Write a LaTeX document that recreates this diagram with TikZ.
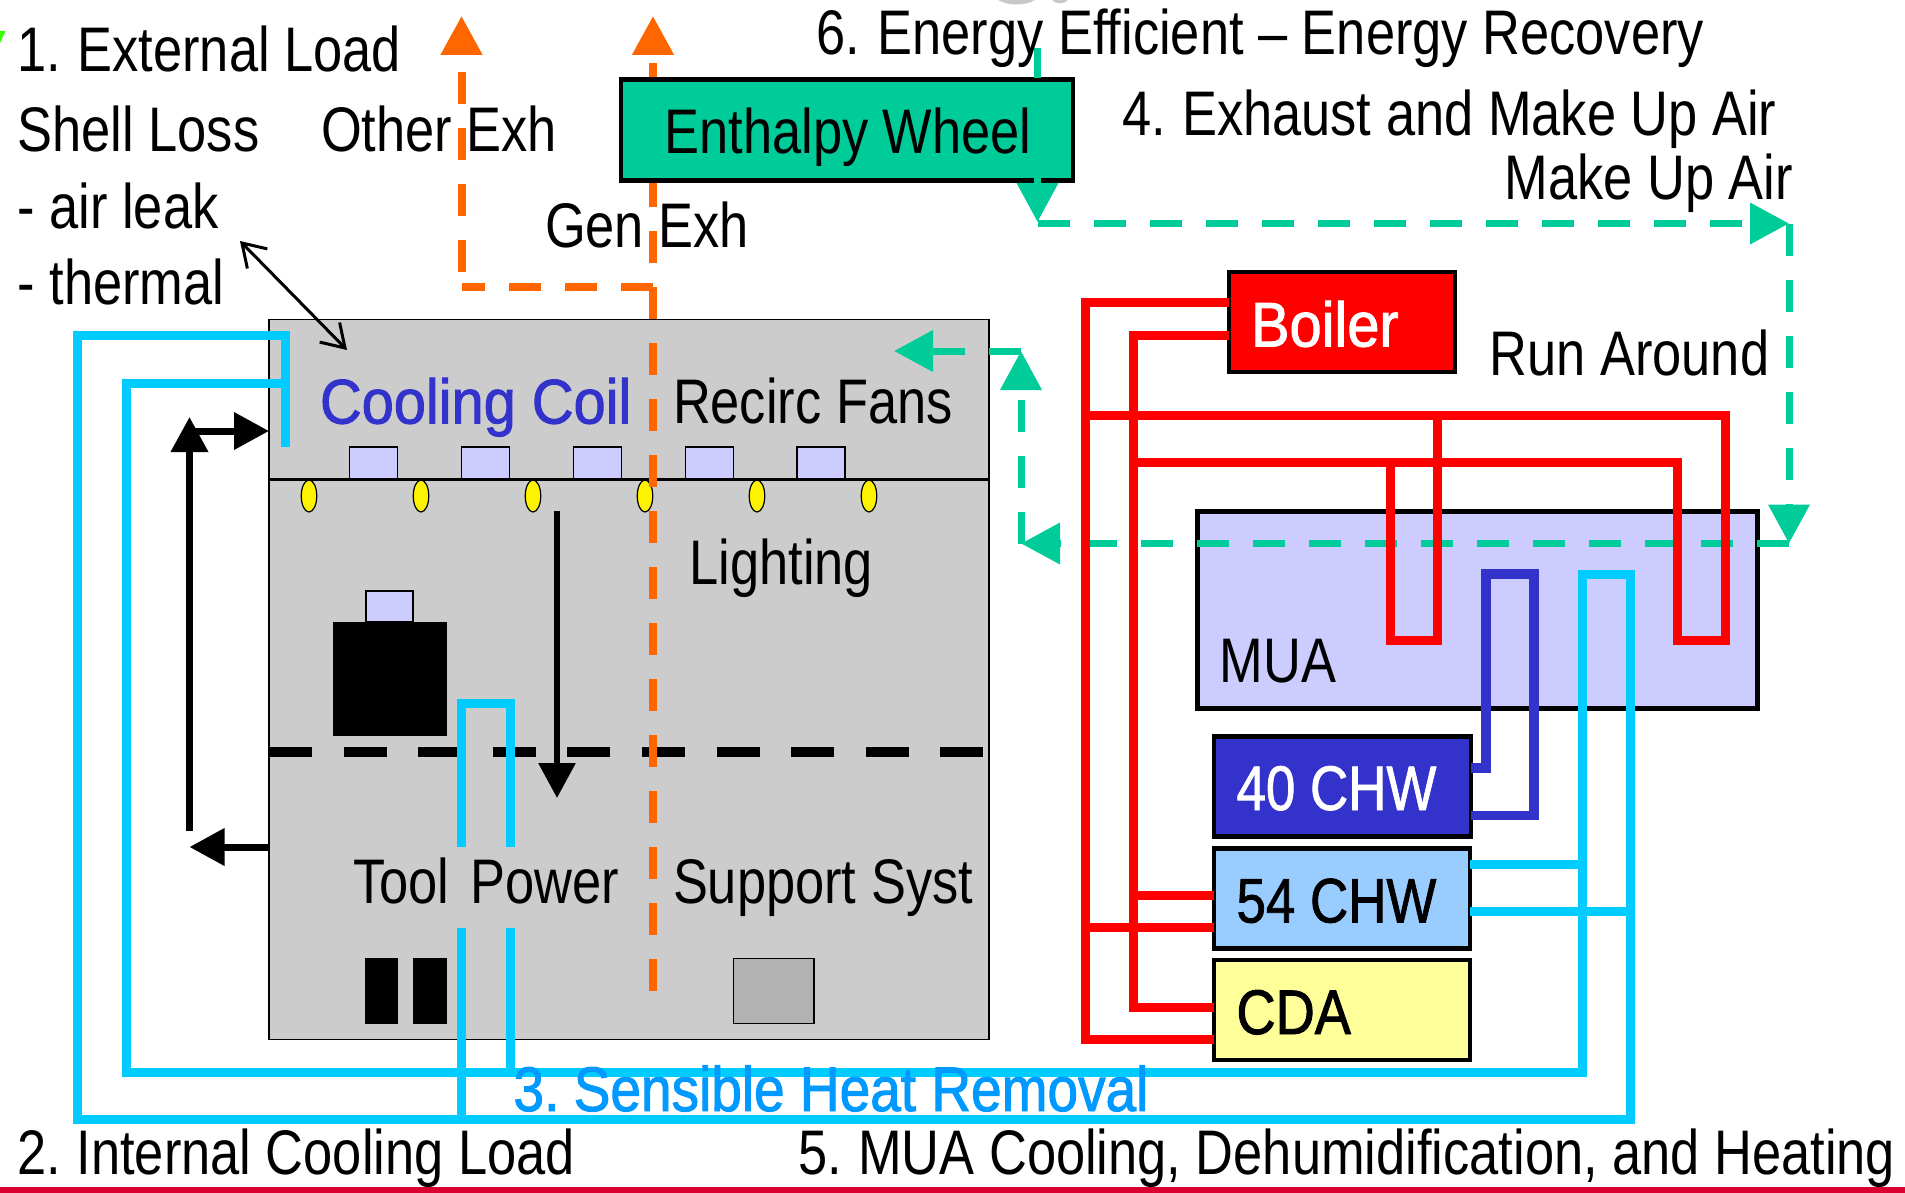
\documentclass[tikz,border=0pt]{standalone}
\usepackage{fontspec}
\setmainfont[FakeStretch=0.832]{Liberation Sans}
\newfontfamily\medwide[FakeStretch=0.917,FakeBold=1.5]{Liberation Sans}
\newfontfamily\medmid[FakeStretch=0.873,FakeBold=1.5]{Liberation Sans}
\newfontfamily\medcda[FakeStretch=0.86,FakeBold=1.5]{Liberation Sans}
\newfontfamily\medcap[FakeStretch=0.84,FakeBold=1.2]{Liberation Sans}
\usetikzlibrary{arrows.meta}
\definecolor{roomgray}{HTML}{CCCCCC}
\definecolor{lav}{HTML}{CCCCFF}
\definecolor{wheelgreen}{HTML}{00CC99}
\definecolor{pipecyan}{HTML}{00CCFF}
\definecolor{pipeblue}{HTML}{3333CC}
\definecolor{sky}{HTML}{99CCFF}
\definecolor{paleyellow}{HTML}{FFFF99}
\definecolor{orangex}{HTML}{FF6600}
\definecolor{titleblue}{HTML}{0099FF}
\definecolor{stripe}{HTML}{DC0032}
\definecolor{edgegreen}{HTML}{33FF00}
\definecolor{edgegray}{HTML}{C8C8C8}
\tikzset{
  lbl/.style={inner sep=0pt,outer sep=0pt,anchor=base west,font=\fontsize{63}{70}\selectfont},
  lblw/.style={lbl,font=\fontsize{63}{70}\medwide},
  lblm/.style={lbl,font=\fontsize{63}{70}\medmid},
  lbld/.style={lbl,font=\fontsize{63}{70}\medcda},
  lblc/.style={lbl,font=\fontsize{63}{70}\medcap},
  equip/.style={draw=black,line width=4.5pt,inner sep=0pt,outer sep=0pt},
  thinbox/.style={draw=black,line width=1.5pt,inner sep=0pt,outer sep=0pt},
  solidbox/.style={fill=black,draw=none,inner sep=0pt,outer sep=0pt},
  lamp/.style={ellipse,fill=yellow,draw=black,line width=1.2pt,minimum width=15.5pt,minimum height=32pt,inner sep=0pt},
  redpipe/.style={draw=red,line width=9pt},
  cyanpipe/.style={draw=pipecyan,line width=9pt},
  bluepipe/.style={draw=pipeblue,line width=9.5pt},
  airgreen/.style={draw=wheelgreen,line width=7pt,dash pattern=on 32pt off 24pt},
  airtip/.style={-{Triangle[length=39pt,width=40pt]}},
  exh/.style={draw=orangex,line width=8pt,dash pattern=on 32pt off 24pt,-{Triangle[length=39pt,width=40pt]}},
  heat/.style={draw=black,line width=7pt,-{Triangle[length=35pt,width=36pt]}},
}
\usetikzlibrary{shapes.geometric}
\begin{document}
\begin{tikzpicture}[x=1pt,y=-1pt]
\useasboundingbox (0,0) rectangle (1905,1193);
% stray bits at the edges
\fill[fill=edgegreen] (0,31) -- (5.5,31) -- (0,43) -- cycle;
\fill[fill=edgegray] (998,0) .. controls (1008,6) and (1025,6) .. (1035,0) -- cycle;
\fill[fill=edgegray] (1052,0) .. controls (1056,4.5) and (1064,4.5) .. (1068,0) -- cycle;
% room
\node[thinbox,fill=roomgray,minimum width=720pt,minimum height=720pt] (room) at (629,679.5) {};
\coordinate (cL) at (269,479.5); \coordinate (cR) at (989,479.5);
\draw[black,line width=3.5pt] (cL) -- (cR);
\foreach \n/\x in {1/373.5,2/485.5,3/597.5,4/709.5,5/821}
  \node[thinbox,fill=lav,minimum width=48pt,minimum height=32pt] (diff\n) at (\x,463) {};
\foreach \n/\x in {1/309,2/421,3/533,4/645,5/757,6/869}
  \node[lamp] (lamp\n) at (\x,496) {};
% tools
\node[solidbox,minimum width=114pt,minimum height=114pt] (tool) at (390,679) {};
\node[thinbox,fill=lav,minimum width=47pt,minimum height=31pt] (toolcap) at (389.5,606.5) {};
\node[solidbox,minimum width=33.5pt,minimum height=66pt] (rackA) at (381.7,991) {};
\node[solidbox,minimum width=34.5pt,minimum height=66pt] (rackB) at (429.8,991) {};
\node[thinbox,fill=black!30,minimum width=80.5pt,minimum height=65pt] (supp) at (773.7,991) {};
\coordinate (fL) at (269,751.5); \coordinate (fR) at (985,751.5);
\draw[black,line width=10pt,dash pattern=on 43pt off 31.6pt] (fL) -- (fR);
% exhaust
\coordinate (gxB) at (653,991); \coordinate (gxT) at (653,16);
\coordinate (oxJ) at (653,287); \coordinate (oxC) at (461.5,287);
\coordinate (oxS) at (461.5,272); \coordinate (oxT) at (461.5,16);
\draw[exh] (gxB) -- (gxT);
\draw[draw=orangex,line width=8pt,dash pattern=on 32pt off 24pt] (oxJ) -- (oxC);
\draw[exh] (oxS) -- (oxT);
% equipment
\node[equip,fill=wheelgreen,minimum width=452pt,minimum height=101pt] (wheel) at (847,130) {};
\node[equip,fill=red,minimum width=226pt,minimum height=100pt] (boiler) at (1342,322) {};
\node[equip,fill=lav,minimum width=560pt,minimum height=197pt] (mua) at (1477.5,610) {};
\node[equip,fill=pipeblue,minimum width=257pt,minimum height=100pt] (chwA) at (1342.3,786.5) {};
\node[equip,fill=sky,minimum width=256pt,minimum height=100pt] (chwB) at (1341.8,898.5) {};
\node[equip,fill=paleyellow,minimum width=256pt,minimum height=100pt] (cda) at (1341.8,1010) {};
% make-up air
\coordinate (aTop) at (1037.5,48); \coordinate (aW) at (1037.5,78);
\coordinate (aWb) at (1037.5,178); \coordinate (aTip) at (1037.5,222);
\coordinate (a1) at (1037.5,223.5); \coordinate (a2) at (1789,223.5);
\coordinate (a3) at (1789,543.5); \coordinate (a4) at (1021,543.5);
\coordinate (a5) at (1021,351); \coordinate (a6) at (894,351);
\draw[draw=wheelgreen,line width=7pt] (aTop) -- (aW);
\draw[draw=wheelgreen,line width=7pt,airtip] (aWb) -- (aTip);
\draw[airgreen,airtip] (a1) -- (a2);
\draw[airgreen,airtip] (a2) -- (a3);
\draw[airgreen,airtip] (a3) -- (a4);
\draw[airgreen,airtip] (a4) -- (a5);
\draw[airgreen,airtip] (a5) -- (a6);
% hot water
\coordinate (rA) at (1085,302); \coordinate (rB) at (1085,1039.5);
\coordinate (rC) at (1133,335); \coordinate (rD) at (1133,1007);
\coordinate (rE) at (1085,415); \coordinate (rF) at (1725,415);
\coordinate (rG) at (1725,640); \coordinate (rH) at (1677,640);
\coordinate (rI) at (1677,462.5); \coordinate (rJ) at (1133,462.5);
\coordinate (rK) at (1437,415); \coordinate (rL) at (1437,640);
\coordinate (rM) at (1390,640); \coordinate (rN) at (1390,462.5);
\draw[redpipe] (boiler.west |- rA) -- (rA) -- (rB) -- (cda.west |- rB);
\draw[redpipe] (boiler.west |- rC) -- (rC) -- (rD) -- (cda.west |- rD);
\draw[redpipe] (rE) -- (rF) -- (rG) -- (rH) -- (rI) -- (rJ);
\draw[redpipe] (rK) -- (rL) -- (rM) -- (rN);
\coordinate (rP) at (1085,927.5); \coordinate (rQ) at (1133,895);
\draw[redpipe] (rP) -- (chwB.west |- rP);
\draw[redpipe] (rQ) -- (chwB.west |- rQ);
% 40 chilled water
\coordinate (bA) at (1486,768); \coordinate (bB) at (1486,574);
\coordinate (bC) at (1534,574); \coordinate (bD) at (1534,815.5);
\draw[bluepipe] (chwA.east |- bA) -- (bA) -- (bB) -- (bC) -- (bD) -- (chwA.east |- bD);
% 54 chilled water
\coordinate (c1) at (285.5,447); \coordinate (c2) at (285.5,335); \coordinate (c3) at (77,335);
\coordinate (c4) at (77,1119); \coordinate (c5) at (1630,1119); \coordinate (c6) at (1630,574);
\coordinate (c7) at (1582,574); \coordinate (c8) at (1582,1072); \coordinate (c9) at (126,1072);
\coordinate (c10) at (126,383); \coordinate (c11) at (285.5,383);
\draw[cyanpipe] (c1) -- (c2) -- (c3) -- (c4) -- (c5) -- (c6) -- (c7) -- (c8) -- (c9) -- (c10) -- (c11);
\coordinate (d1) at (1582,864); \coordinate (d2) at (1630,911);
\draw[cyanpipe] (chwB.east |- d1) -- (d1);
\draw[cyanpipe] (chwB.east |- d2) -- (d2);
\coordinate (h1) at (461.5,847); \coordinate (h2) at (461.5,703);
\coordinate (h3) at (510,703); \coordinate (h4) at (510,847);
\coordinate (h5) at (461.5,928); \coordinate (h6) at (461.5,1119);
\coordinate (h7) at (510,928); \coordinate (h8) at (510,1072);
\draw[cyanpipe] (h1) -- (h2) -- (h3) -- (h4);
\draw[cyanpipe] (h5) -- (h6);
\draw[cyanpipe] (h7) -- (h8);
% heat arrows
\coordinate (k1) at (189.5,831); \coordinate (k2) at (189.5,417);
\coordinate (k3) at (189.5,431); \coordinate (k5) at (189.5,847);
\coordinate (k6) at (557,511); \coordinate (k7) at (557,798);
\draw[heat] (k1) -- (k2);
\draw[heat] (k3) -- (room.west |- k3);
\draw[heat] (room.west |- k5) -- (k5);
\draw[heat,line width=6pt] (k6) -- (k7);
\coordinate (s1) at (240,241); \coordinate (s2) at (347,350);
\draw[black,line width=3pt,{Straight Barb[length=22pt,width=28pt]}-{Straight Barb[length=22pt,width=28pt]}] (s1) -- (s2);
% bottom stripe
\fill[fill=stripe] (0,1186.5) rectangle (1905,1193);
% labels
\node[lbl] (t1) at (17,71.5) {1.\hspace{-2.5pt} External Load};
\node[lbl] (t2) at (17.5,151.5) {Shell Loss};
\node[lbl] (t3) at (321,151.5) {Other Exh};
\node[lbl] (t4) at (17.5,228.5) {- air leak};
\node[lbl] (t5) at (17.5,304.5) {- thermal};
\node[lbl] (t6) at (545,247.5) {Gen Exh};
\node[lbl] (t7) at (816.5,54.5) {6.\hspace{-2pt} Energy Efficient – Energy Recovery};
\node[lbl] (t8) at (664.5,153.5) {Enthalpy Wheel};
\node[lbl] (t9) at (1122,135.5) {4.\hspace{-3pt} Exhaust and Make Up Air};
\node[lbl] (t10) at (1504.5,199.5) {Make Up Air};
\node[lblw,text=white] (t11) at (1251,346.5) {Boiler};
\node[lbl] (t12) at (1489.5,375.5) {Run Around};
\node[lblw,text=pipeblue] (t13) at (320,423.5) {Cooling Coil};
\node[lbl] (t14) at (673,423.5) {Recirc Fans};
\node[lbl] (t15) at (689.5,584.5) {Lighting};
\node[lbl] (t16) at (353,903.5) {Tool\hspace{7pt} Power};
\node[lbl] (t17) at (673,903.5) {Support Syst};
\node[lbl] (t18) at (1219.5,682.5) {MUA};
\node[lblc,text=white] (t19) at (1236.5,810) {40 CHW};
\node[lblc] (t20) at (1236.5,922.5) {54 CHW};
\node[lbld] (t21) at (1236.5,1034) {CDA};
\node[lblm,text=titleblue] (t22) at (513.5,1111) {3.\hspace{-6pt} Sensible Heat Removal};
\node[lbl] (t23) at (17.5,1174.5) {2.\hspace{-4pt} Internal Cooling Load};
\node[lbl] (t24) at (798,1174.5) {5.\hspace{-3pt} MUA Cooling, Dehumidification, and Heating};
\end{tikzpicture}
\end{document}
